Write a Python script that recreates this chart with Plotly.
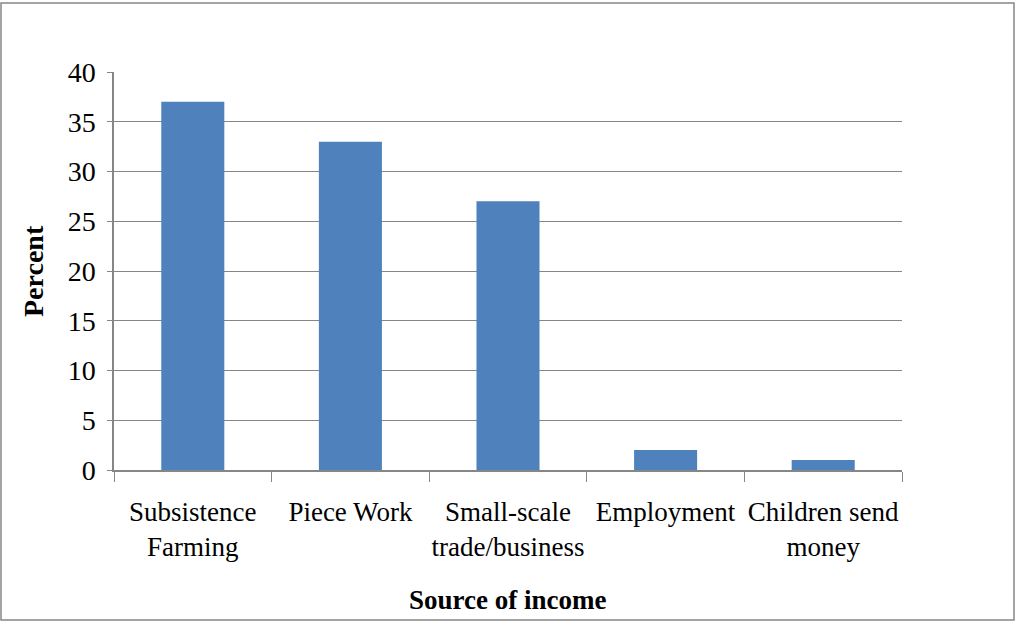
import plotly.graph_objects as go

categories = ["Subsistence<br>Farming", "Piece Work", "Small-scale<br>trade/business",
              "Employment", "Children send<br>money"]
values = [37, 33, 27, 2, 1]
y_ticks = [0, 5, 10, 15, 20, 25, 30, 35, 40]

W, H = 1016, 622
L, R, T, B = 114, 114, 72, 152
pw, ph = W - L - R, H - T - B

def px(x):
    return (x - L) / pw

def py(y):
    return (H - B - y) / ph

fig = go.Figure(go.Bar(x=categories, y=values, marker_color="#4F81BD",
                       marker_line_width=0))

font = "Liberation Serif, Times New Roman, serif"
fig.update_layout(
    width=W, height=H,
    margin=dict(l=L, r=R, t=T, b=B, autoexpand=False),
    paper_bgcolor="white", plot_bgcolor="white",
    bargap=0.6,
    showlegend=False,
    font=dict(family=font, size=27, color="black"),
    xaxis=dict(showline=True, linecolor="#868686", linewidth=1.5,
               ticks="outside", ticklen=10, tickcolor="#868686",
               tickson="boundaries", showgrid=False, ticklabelstandoff=17,
               tickangle=0, automargin=False,
               tickfont=dict(family=font, size=27, color="black")),
    yaxis=dict(range=[0, 40], tickvals=y_ticks, showline=True,
               linecolor="#868686", linewidth=1.5, ticks="outside", ticklen=5,
               tickcolor="#868686", showgrid=True, gridcolor="#868686",
               gridwidth=1, zeroline=False, ticklabelstandoff=6,
               automargin=False,
               tickfont=dict(family=font, size=28, color="black")),
    annotations=[
        dict(text="<b>Percent</b>", x=px(33), y=py(271), xref="paper", yref="paper",
             xanchor="center", yanchor="middle",
             textangle=-90, showarrow=False, font=dict(family=font, size=28)),
        dict(text="<b>Source of income</b>", x=px(507), y=py(600), xref="paper",
             yref="paper", xanchor="center", yanchor="middle",
             showarrow=False, font=dict(family=font, size=27)),
    ],
    shapes=[dict(type="rect", xref="paper", yref="paper",
                 x0=px(1), x1=px(1014), y0=py(620), y1=py(3),
                 line=dict(color="#868686", width=1.5))],
)

fig.write_html("out.html")
